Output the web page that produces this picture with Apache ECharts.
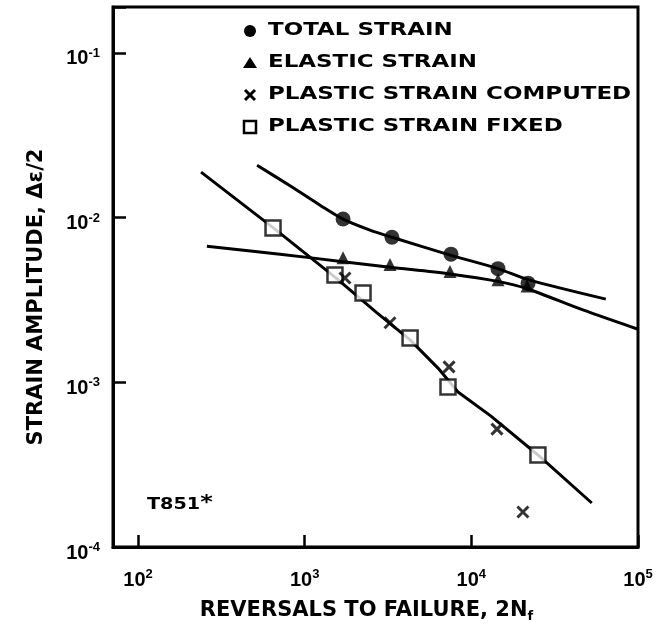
<!DOCTYPE html>
<html>
<head>
<meta charset="utf-8">
<style>
  html, body { margin: 0; padding: 0; background: #fff; }
  #main { width: 663px; height: 631px; }
</style>
<script src="https://cdn.jsdelivr.net/npm/echarts@6/dist/echarts.min.js"></script>
</head>
<body>
<div id="main"></div>
<script>
// reversals to failure (2Nf) and strain amplitude
const totalN = [1700, 3340, 7550, 14450, 21900];
const totalStrain = [0.0098, 0.0076, 0.0060, 0.0049, 0.0040];
const totalCurveN = [518, 817, 1236, 1700, 2466, 3340, 7550, 14450, 21900, 64100];
const totalCurve = [0.0208, 0.0156, 0.0119, 0.0098, 0.0084, 0.0076, 0.0059, 0.0049, 0.0042, 0.0032];

const elasticN = [1700, 3250, 7450, 14450, 21600];
const elasticStrain = [0.0057, 0.0052, 0.0047, 0.0042, 0.00385];
const elasticLineN = [259, 711, 1700, 3250, 7450, 14450, 21600, 46700, 100000];
const elasticLine = [0.0067, 0.0060, 0.0054, 0.0050, 0.00455, 0.0041, 0.0037, 0.00275, 0.0021];

const computedN = [1745, 3250, 7350, 14250, 20400];
const computedStrain = [0.0043, 0.0023, 0.00124, 0.00052, 0.000163];

const fixedN = [646, 1520, 2240, 4290, 7244, 25100];
const fixedStrain = [0.00865, 0.00448, 0.00348, 0.00186, 0.000935, 0.000362];
const plasticLineN = [239, 646, 1520, 2716, 4290, 6310, 8318, 13120, 25100, 52800];
const plasticLine = [0.0189, 0.0087, 0.00435, 0.00264, 0.00181, 0.00122, 0.000873, 0.000623, 0.000362, 0.000185];

const legendNames = ['TOTAL STRAIN', 'ELASTIC STRAIN', 'PLASTIC STRAIN COMPUTED', 'PLASTIC STRAIN FIXED'];

const xMin = 70.8;
const xMax = 100000;
const yMin = 0.0001;
const yMax = 0.19;

const zip = (xs, ys) => xs.map((x, i) => [x, ys[i]]);

// only the decades get a label, written as 10 with a raised exponent
const decadeLabel = (v) => {
    const l = Math.log10(v);
    const e = Math.round(l);
    return Math.abs(l - e) < 1e-6 ? '{b|10}{s|' + e + '}' : '';
};
const labelRich = {
    b: { fontFamily: 'Liberation Sans', fontWeight: 'bold', fontSize: 20, color: '#000', lineHeight: 24 },
    s: { fontFamily: 'Liberation Sans', fontWeight: 'bold', fontSize: 13, color: '#000', lineHeight: 14, verticalAlign: 'top' }
};
const titleRich = {
    t: { fontFamily: 'DejaVu Sans', fontWeight: 'bold', fontSize: 21, color: '#000', lineHeight: 24 },
    f: { fontFamily: 'DejaVu Sans', fontWeight: 'bold', fontSize: 13, color: '#000', lineHeight: 14, verticalAlign: 'bottom' }
};

const black = '#000';
const crossPath = 'path://M0,0L10,10M10,0L0,10';

// legend drawn by hand, the lettering in the figure is very wide
const iconX = 250;
const textX = 268;
const rowTop = 31;
const rowStep = 32;
const legendIcon = [
    (y) => ({ type: 'circle', shape: { cx: iconX, cy: y, r: 6 }, style: { fill: black } }),
    (y) => ({ type: 'polygon', shape: { points: [[iconX, y - 6], [iconX + 7, y + 5], [iconX - 7, y + 5]] }, style: { fill: black } }),
    (y) => ({
        type: 'group',
        children: [
            { type: 'line', shape: { x1: iconX - 5, y1: y - 5, x2: iconX + 5, y2: y + 5 }, style: { stroke: black, lineWidth: 3 } },
            { type: 'line', shape: { x1: iconX + 5, y1: y - 5, x2: iconX - 5, y2: y + 5 }, style: { stroke: black, lineWidth: 3 } }
        ]
    }),
    (y) => ({ type: 'rect', shape: { x: iconX - 6, y: y - 6, width: 12, height: 12 }, style: { fill: '#fff', stroke: black, lineWidth: 2.5 } })
];
const legendItems = [];
legendNames.forEach((name, i) => {
    const y = rowTop + i * rowStep;
    legendItems.push(legendIcon[i](y));
    legendItems.push({
        type: 'text', x: textX, y: y, scaleX: 1.35,
        style: { text: name, fontFamily: 'DejaVu Sans', fontWeight: 'bold', fontSize: 17, fill: black, align: 'left', verticalAlign: 'middle' }
    });
});

const myChart = echarts.init(document.getElementById('main'));
const option = {
    animation: false,
    backgroundColor: '#fff',
    grid: { left: 113, right: 25, top: 7, bottom: 84, show: true, borderColor: black, borderWidth: 3 },
    xAxis: {
        type: 'log',
        logBase: 10,
        min: xMin,
        max: xMax,
        name: '{t|REVERSALS TO FAILURE, 2N}{f|f}',
        nameLocation: 'middle',
        nameGap: 52,
        nameTextStyle: { rich: titleRich, padding: [0, 18, 0, 0] },
        axisLine: { lineStyle: { color: black, width: 3 } },
        axisTick: { inside: true, length: 12, lineStyle: { color: black, width: 2.5 } },
        minorTick: { show: false },
        axisLabel: { formatter: decadeLabel, rich: labelRich, margin: 21 },
        splitLine: { show: false }
    },
    yAxis: {
        type: 'log',
        logBase: 10,
        min: yMin,
        max: yMax,
        name: '{t|STRAIN AMPLITUDE, Δε/2}',
        nameLocation: 'middle',
        nameGap: 64,
        nameTextStyle: { rich: titleRich, padding: [0, 40, 0, 0] },
        axisLine: { lineStyle: { color: black, width: 3 } },
        axisTick: { inside: true, length: 13, lineStyle: { color: black, width: 2.5 } },
        minorTick: { show: false },
        axisLabel: { formatter: decadeLabel, rich: labelRich, margin: 13, padding: [12, 0, 0, 0] },
        splitLine: { show: false }
    },
    graphic: [
        { type: 'group', children: legendItems },
        {
            type: 'text', x: 147, y: 505, scaleX: 1.2,
            style: {
                text: '{a|T851}{s|*}',
                verticalAlign: 'middle',
                rich: {
                    a: { fontFamily: 'DejaVu Sans', fontWeight: 'bold', fontSize: 16, fill: black, lineHeight: 24 },
                    s: { fontFamily: 'DejaVu Sans', fontWeight: 'bold', fontSize: 20, fill: black, lineHeight: 20, verticalAlign: 'top' }
                }
            }
        }
    ],
    series: [
        {
            name: 'total fit', type: 'line', data: zip(totalCurveN, totalCurve),
            symbol: 'none', smooth: 0.3, lineStyle: { color: black, width: 3 }, z: 2
        },
        {
            name: 'elastic fit', type: 'line', data: zip(elasticLineN, elasticLine),
            symbol: 'none', smooth: 0.3, lineStyle: { color: black, width: 3 }, z: 2
        },
        {
            name: 'plastic fit', type: 'line', data: zip(plasticLineN, plasticLine),
            symbol: 'none', lineStyle: { color: black, width: 3 }, z: 2
        },
        {
            name: legendNames[0], type: 'scatter', data: zip(totalN, totalStrain),
            symbol: 'circle', symbolSize: 15, itemStyle: { color: black }, z: 4
        },
        {
            name: legendNames[1], type: 'scatter', data: zip(elasticN, elasticStrain),
            symbol: 'triangle', symbolSize: 13, itemStyle: { color: black }, z: 4
        },
        {
            name: legendNames[2], type: 'scatter', data: zip(computedN, computedStrain),
            symbol: crossPath, symbolSize: 11, itemStyle: { color: black, borderColor: black, borderWidth: 3 }, z: 5
        },
        {
            name: legendNames[3], type: 'scatter', data: zip(fixedN, fixedStrain),
            symbol: 'rect', symbolSize: 15, itemStyle: { color: '#fff', borderColor: black, borderWidth: 2.5 }, z: 3
        }
    ]
};
myChart.setOption(option);
</script>
</body>
</html>
